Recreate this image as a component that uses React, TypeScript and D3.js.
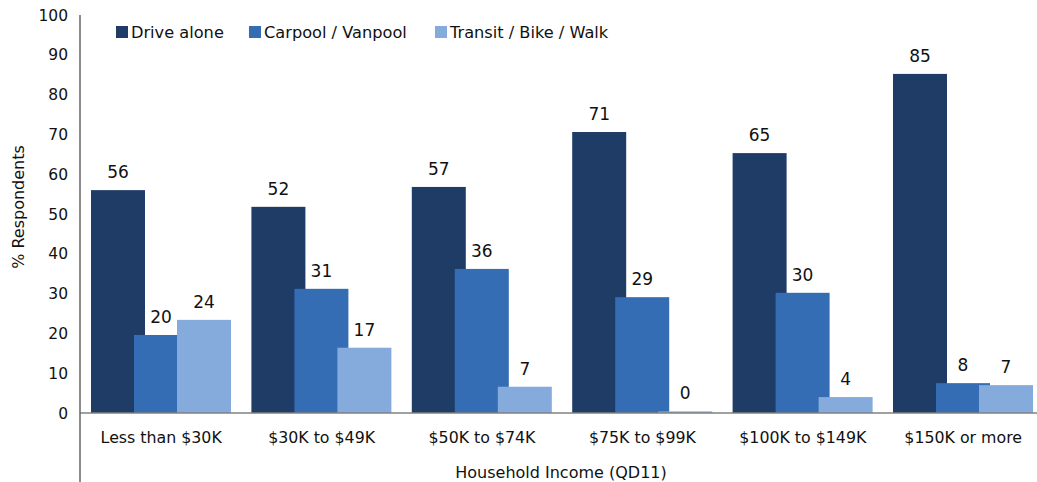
import React from "react";
import * as d3 from "d3";

const categories = ["Less than $30K", "$30K to $49K", "$50K to $74K", "$75K to $99K", "$100K to $149K", "$150K or more"];
const seriesNames = ["Drive alone", "Carpool / Vanpool", "Transit / Bike / Walk"];
const driveAlone = [56.0, 51.8, 56.8, 70.6, 65.3, 85.2];
const carpool = [19.6, 31.2, 36.2, 29.1, 30.2, 7.5];
const transit = [23.4, 16.4, 6.6, 0.4, 4.0, 7.0];
const driveLabels = [56, 52, 57, 71, 65, 85];
const carpoolLabels = [20, 31, 36, 29, 30, 8];
const transitLabels = [24, 17, 7, 0, 4, 7];
const yTicks = [0, 10, 20, 30, 40, 50, 60, 70, 80, 90, 100];
const colors = ["#1e3c66", "#346db3", "#84abdc"];

const W = 1037;
const H = 482;
const left = 80;
const top = 15;
const bottom = 413;
const step = 160.4;
const FONT = "'DejaVu Sans', Verdana, sans-serif";

export default function App() {
  const x = d3.scaleBand<string>().domain(categories).range([left, left + step * categories.length]).padding(0);
  const y = d3.scaleLinear().domain([0, 100]).range([bottom, top]);
  const values = [driveAlone, carpool, transit];
  const labels = [driveLabels, carpoolLabels, transitLabels];
  const barW = 54;
  const barStep = 43;
  const groupPad = 11;
  const legendX = [116, 249, 435];

  return (
    <svg width={W} height={H} style={{ position: "absolute", left: 0, top: 0, fontFamily: FONT }}>
      <rect x={0} y={0} width={W} height={H} fill="#fff" />
      {values.map((vals, si) =>
        vals.map((v, ci) => {
          const bx = (x(categories[ci]) as number) + groupPad + si * barStep;
          return (
            <g key={`${si}-${ci}`}>
              <rect x={bx} y={y(v)} width={barW} height={bottom - y(v)} fill={colors[si]} />
            </g>
          );
        })
      )}
      {values.map((vals, si) =>
        vals.map((v, ci) => {
          const bx = (x(categories[ci]) as number) + groupPad + si * barStep;
          return (
            <text key={`l${si}-${ci}`} x={bx + barW / 2} y={y(v) - 12} textAnchor="middle" fontSize={17} fill="#111">
              {labels[si][ci]}
            </text>
          );
        })
      )}
      <line x1={left} x2={W} y1={bottom} y2={bottom} stroke="#808080" strokeWidth={1.5} />
      <line x1={left} x2={left} y1={top} y2={H} stroke="#666" strokeWidth={1.5} />
      {yTicks.map((t) => (
        <text key={t} x={68} y={y(t) + 5.5} textAnchor="end" fontSize={15.5} fill="#111">
          {t}
        </text>
      ))}
      {categories.map((c) => (
        <text key={c} x={(x(c) as number) + step / 2 + 1} y={443} textAnchor="middle" fontSize={15.8} fill="#111">
          {c}
        </text>
      ))}
      <text x={561} y={478} textAnchor="middle" fontSize={16} fill="#111">
        Household Income (QD11)
      </text>
      <text transform="translate(24,207) rotate(-90)" textAnchor="middle" fontSize={16} fill="#111">
        % Respondents
      </text>
      {seriesNames.map((n, i) => (
        <g key={n}>
          <rect x={legendX[i]} y={26} width={12} height={12} fill={colors[i]} />
          <text x={legendX[i] + 15} y={37.5} fontSize={16.2} fill="#111">
            {n}
          </text>
        </g>
      ))}
    </svg>
  );
}
